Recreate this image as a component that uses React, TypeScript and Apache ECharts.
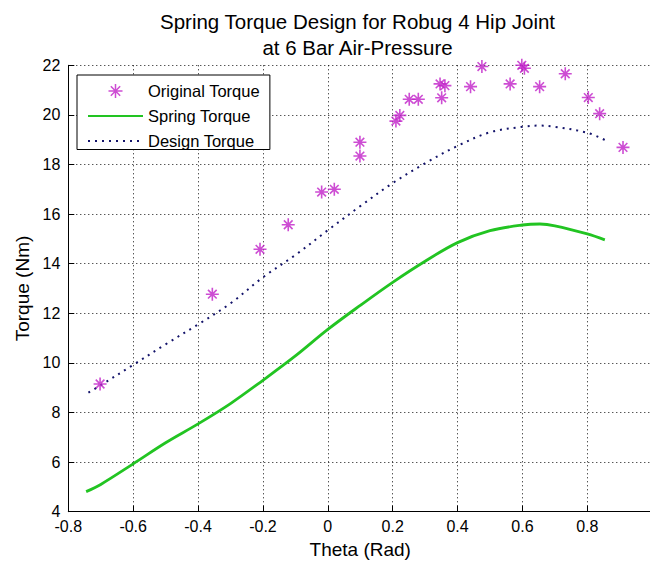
import React, { useEffect, useRef } from "react";
import * as echarts from "echarts";

const FONT = "'Liberation Sans', Arial, Helvetica, sans-serif";

const titleLines = ["Spring Torque Design for Robug 4 Hip Joint", "at 6 Bar Air-Pressure"];
const xAxisName = "Theta (Rad)";
const yAxisName = "Torque (Nm)";

// x ticks: -0.8 .. 1.0 step 0.2 ; y ticks: 4 .. 22 step 2
const xRange = [-0.8, 1.0];
const xStep = 0.2;
const yRange = [4, 22];
const yStep = 2;

const originalTheta = [
  -0.702, -0.356, -0.209, -0.122, -0.019, 0.02, 0.099, 0.099, 0.21, 0.222, 0.251, 0.279, 0.346,
  0.361, 0.351, 0.44, 0.475, 0.562, 0.598, 0.606, 0.653, 0.732, 0.803, 0.838, 0.91,
];
const originalTorque = [
  9.15, 12.77, 14.58, 15.57, 16.89, 17.0, 18.34, 18.9, 19.75, 19.98, 20.63, 20.63, 21.25,
  21.18, 20.69, 21.14, 21.95, 21.25, 22.0, 21.88, 21.14, 21.66, 20.7, 20.05, 18.69,
];

const springTheta = [
  -0.745, -0.7, -0.6, -0.5, -0.4, -0.3, -0.2, -0.1, 0.0, 0.1, 0.2, 0.3, 0.4, 0.5, 0.6, 0.654,
  0.7, 0.8, 0.854,
];
const springTorque = [
  4.81, 5.1, 5.93, 6.78, 7.54, 8.36, 9.3, 10.28, 11.35, 12.32, 13.25, 14.1, 14.85, 15.33, 15.56,
  15.6, 15.53, 15.2, 14.96,
];

const designTheta = [
  -0.738, -0.7, -0.6, -0.5, -0.4, -0.3, -0.2, -0.1, 0.0, 0.1, 0.2, 0.3, 0.4, 0.5, 0.6, 0.65,
  0.7, 0.8, 0.854,
];
const designTorque = [
  8.8, 9.1, 9.92, 10.75, 11.55, 12.4, 13.45, 14.35, 15.35, 16.32, 17.25, 18.05, 18.75, 19.3,
  19.52, 19.57, 19.52, 19.28, 18.99,
];

const seriesNames = ["Original Torque", "Spring Torque", "Design Torque"];

const STAR = "path://M6,0L6,12M0,6L12,6M2,2L10,10M2,10L10,2";
const HIDDEN = "rgba(0,0,0,0)";

function pairs(xs: number[], ys: number[]) {
  return xs.map((x, i) => [x, ys[i]]);
}

export default function App() {
  const ref = useRef<HTMLDivElement>(null);

  useEffect(() => {
    if (!ref.current) return;
    const chart = echarts.init(ref.current, null, { renderer: "svg" });
    const axisCommon = {
      axisLine: { show: true, onZero: false, lineStyle: { color: "#000", width: 1 } },
      axisTick: { show: true, inside: true, length: 6, lineStyle: { color: "#000" } },
      splitLine: { show: true, lineStyle: { color: "#111", width: 1, type: [1, 3] as any } },
      axisLabel: { color: "#000", fontSize: 16, fontFamily: FONT },
      nameTextStyle: { color: "#000", fontSize: 19, fontFamily: FONT },
    };
    chart.setOption({
      animation: false,
      backgroundColor: "#fff",
      textStyle: { fontFamily: FONT },
      graphic: [
        {
          type: "text",
          x: 357.5,
          y: 21,
          style: {
            text: titleLines[0],
            fontSize: 20.5,
            fontFamily: FONT,
            fill: "#000",
            align: "center",
            verticalAlign: "middle",
          },
        },
        {
          type: "text",
          x: 357.5,
          y: 47.5,
          style: {
            text: titleLines[1],
            fontSize: 20.5,
            fontFamily: FONT,
            fill: "#000",
            align: "center",
            verticalAlign: "middle",
          },
        },
      ],
      grid: {
        left: 68.3,
        top: 65.3,
        width: 583.9,
        height: 446.4,
        containLabel: false,
        outerBoundsMode: "none",
      },
      xAxis: {
        type: "value",
        min: xRange[0],
        max: xRange[1],
        interval: xStep,
        name: xAxisName,
        nameLocation: "middle",
        nameGap: 19,
        ...axisCommon,
        axisLabel: { ...axisCommon.axisLabel, margin: 7, showMaxLabel: false },
      },
      yAxis: {
        type: "value",
        min: yRange[0],
        max: yRange[1],
        interval: yStep,
        name: yAxisName,
        nameLocation: "middle",
        nameGap: 35,
        ...axisCommon,
        axisLabel: { ...axisCommon.axisLabel, margin: 8 },
      },
      legend: {
        orient: "vertical",
        left: 77,
        top: 75,
        itemWidth: 55,
        itemHeight: 14,
        itemGap: 8,
        padding: [7.5, 10, 0, 10],
        borderColor: "#000",
        borderWidth: 1,
        backgroundColor: "#fff",
        textStyle: { fontSize: 16.5, color: "#000", fontFamily: FONT },
        data: [
          { name: seriesNames[0], itemStyle: { borderWidth: 1.5 } },
          { name: seriesNames[1] },
          { name: seriesNames[2] },
        ],
      },
      series: [
        {
          name: seriesNames[2],
          type: "line",
          data: pairs(designTheta, designTorque),
          symbol: "circle",
          showSymbol: false,
          smooth: 0.35,
          lineStyle: { color: "#13136a", width: 2, type: [2, 5] as any },
          itemStyle: { color: HIDDEN, borderColor: HIDDEN, borderWidth: 0 },
          z: 2,
        },
        {
          name: seriesNames[1],
          type: "line",
          data: pairs(springTheta, springTorque),
          symbol: "circle",
          showSymbol: false,
          smooth: 0.35,
          lineStyle: { color: "#22c422", width: 2.8 },
          itemStyle: { color: HIDDEN, borderColor: HIDDEN, borderWidth: 0 },
          z: 3,
        },
        {
          name: seriesNames[0],
          type: "scatter",
          data: pairs(originalTheta, originalTorque),
          symbol: STAR,
          symbolSize: 13,
          itemStyle: { color: "#c020c8", borderColor: "#c020c8", borderWidth: 1.6 },
          z: 4,
        },
      ],
    });
    return () => chart.dispose();
  }, []);

  return (
    <div
      ref={ref}
      style={{ position: "absolute", left: 0, top: 0, width: 650, height: 566, background: "#fff" }}
    />
  );
}
